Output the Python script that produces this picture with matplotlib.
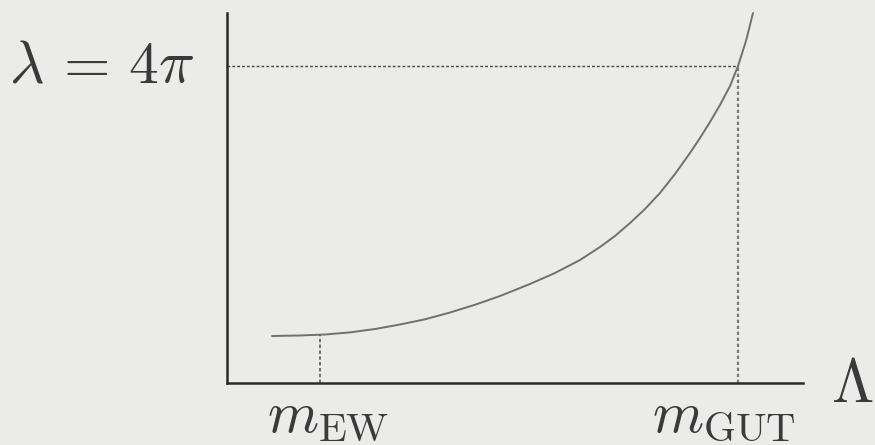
import matplotlib
matplotlib.use("Agg")
import matplotlib.pyplot as plt

plt.rcParams['mathtext.fontset'] = 'cm'
plt.rcParams['font.family'] = ['DejaVu Serif']

# Running coupling curve lambda(Lambda), arbitrary units
scale = [0.781, 1.267, 1.701, 2.135, 2.569, 3.003, 3.438, 3.872, 4.306,
         4.740, 5.260, 5.694, 6.128, 6.476, 6.736, 6.997, 7.257, 7.517,
         7.778, 8.038, 8.212, 8.385, 8.559, 8.733, 8.872, 9.010, 9.132]
coupling = [1.270, 1.284, 1.311, 1.368, 1.459, 1.581, 1.722, 1.905, 2.115,
            2.351, 2.676, 2.973, 3.324, 3.676, 3.973, 4.324, 4.703, 5.135,
            5.649, 6.216, 6.622, 7.054, 7.514, 8.027, 8.568, 9.243, 10.0]

m_ew = 1.61
m_gut = 8.87
lam_4pi = 8.57
lam_ew = 1.30

labels = {"lam": r"$\lambda\,{=}\,4\pi$", "ew": r"$m_{\rm EW}$",
          "gut": r"$m_{\rm GUT}$", "axis": r"$\Lambda$"}

bg = '#ebebe9'
txt = '#3a3a3c'
fig = plt.figure(figsize=(8.75, 4.45), dpi=100, facecolor=bg)
ax = fig.add_axes([227/875, 62/445, 576/875, 370/445])
ax.set_facecolor(bg)
ax.set_xlim(0, 10)
ax.set_ylim(0, 10)

for s in ['top', 'right']:
    ax.spines[s].set_visible(False)
for s in ['left', 'bottom']:
    ax.spines[s].set_color('#2a2a2a')
    ax.spines[s].set_linewidth(1.8)
ax.set_xticks([])
ax.set_yticks([])

ax.plot(scale, coupling, color='#6f6f74', lw=1.4, clip_on=False,
        solid_capstyle='round', solid_joinstyle='round')
ax.plot([0, m_gut], [lam_4pi, lam_4pi], color='#444444', lw=1.0,
        linestyle=(0, (2, 1.5)))
ax.plot([m_gut, m_gut], [0, lam_4pi], color='#77777c', lw=1.6,
        linestyle=(0, (1.5, 1.2)))
ax.plot([m_ew, m_ew], [0, lam_ew], color='#555555', lw=1.2,
        linestyle=(0, (2, 1.5)))

ax.text(-0.56, 8.135, labels["lam"], fontsize=43, ha='right', va='baseline',
        color=txt)
ax.text(1.76, -1.33, labels["ew"], fontsize=42, ha='center', va='baseline',
        color=txt)
ax.text(8.63, -1.33, labels["gut"], fontsize=42, ha='center', va='baseline',
        color=txt)
ax.text(10.48, -0.51, labels["axis"], fontsize=44, ha='left', va='baseline',
        color=txt)

fig.savefig('out.png', dpi=100, facecolor=bg)
